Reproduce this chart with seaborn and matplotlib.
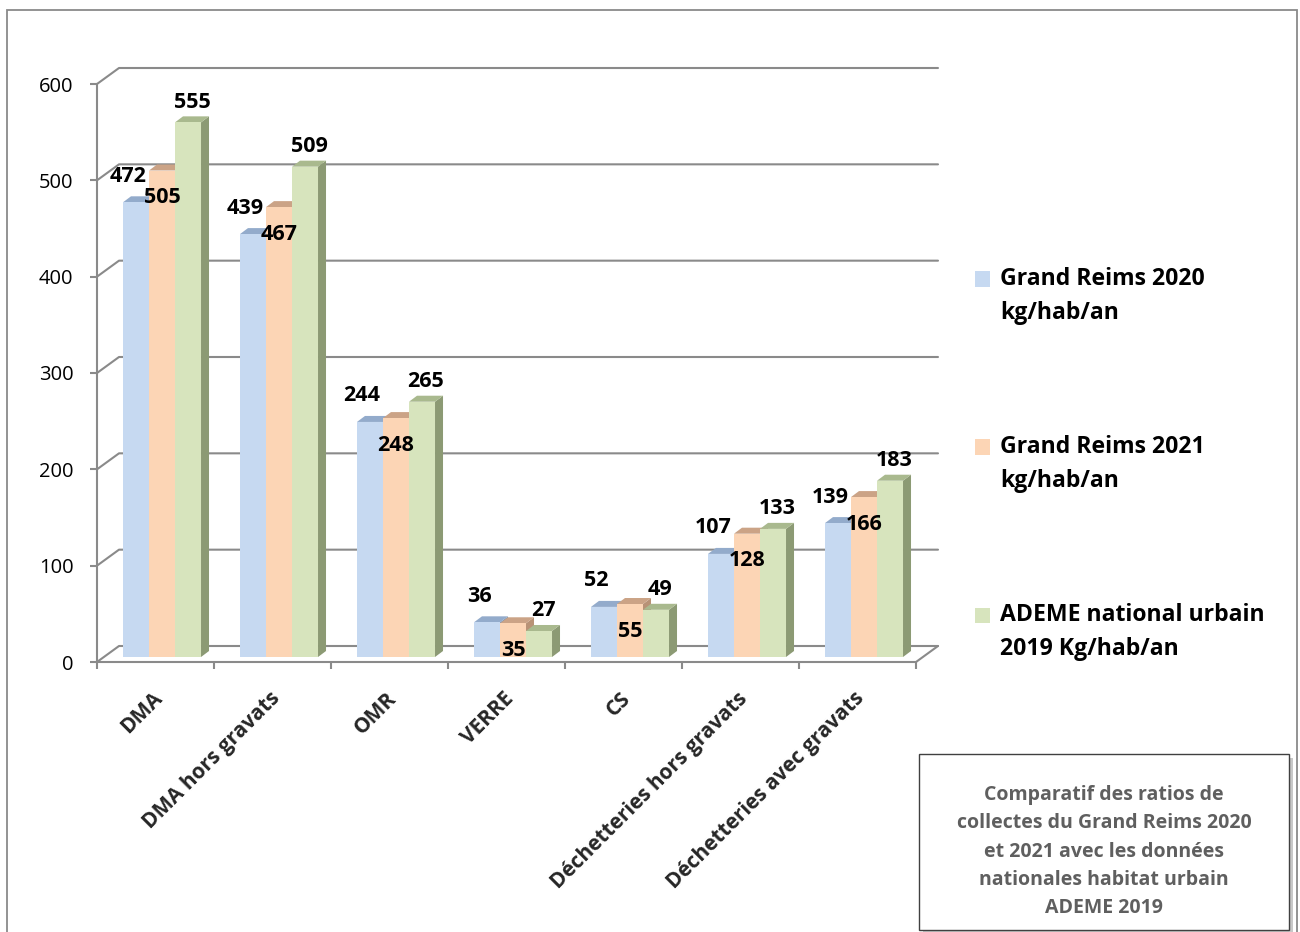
import numpy as np
import pandas as pd
import matplotlib.pyplot as plt
import matplotlib.transforms as mtransforms
from matplotlib.patches import Polygon, Rectangle
from matplotlib.lines import Line2D
import seaborn as sns

# Données
categories = ["DMA", "DMA hors gravats", "OMR", "VERRE", "CS",
              "Déchetteries hors gravats", "Déchetteries avec gravats"]
series = ["Grand Reims 2020\nkg/hab/an",
          "Grand Reims 2021\nkg/hab/an",
          "ADEME national urbain\n2019 Kg/hab/an"]
gr_2020 = [472, 439, 244, 36, 52, 107, 139]
gr_2021 = [505, 467, 248, 35, 55, 128, 166]
ademe_2019 = [555, 509, 265, 27, 49, 133, 183]
graduations = [0, 100, 200, 300, 400, 500, 600]
encadre = ["Comparatif des ratios de",
           "collectes du Grand Reims 2020",
           "et 2021 avec les données",
           "nationales habitat urbain",
           "ADEME 2019"]

couleurs = ["#c6d9f1", "#fcd5b5", "#d7e4bd"]
dessus = ["#93abcb", "#cba386", "#a9b98e"]
cotes = ["#8497b0", "#b89276", "#8c9a74"]
gris = "#8a8a8a"

df = pd.DataFrame({
    "categorie": categories * 3,
    "serie": [series[0]] * 7 + [series[1]] * 7 + [series[2]] * 7,
    "valeur": gr_2020 + gr_2021 + ademe_2019,
})

sns.set_theme(style="white")
plt.rcParams["font.family"] = ["Open Sans", "DejaVu Sans"]

W, H = 1300, 932
fig = plt.figure(figsize=(W / 100, H / 100), dpi=100)
ax = fig.add_axes([97 / W, (H - 662) / H, (916 - 97) / W, (662 - 84) / H])
ax.patch.set_alpha(0)

sns.barplot(data=df, x="categorie", y="valeur", hue="serie", order=categories,
            hue_order=series, palette=couleurs, saturation=1, width=0.667,
            linewidth=0, legend=False, ax=ax)
ax.set_xlim(-0.5, 6.5)
ax.set_ylim(0, 600)
ax.set_xlabel("")
ax.set_ylabel("")

ident = mtransforms.IdentityTransform()
T = ax.transData.transform

# mur du fond (effet 3D)
bx, by = 22, 16
for v in graduations:
    x0, y0 = T((-0.5, v))
    x1, _ = T((6.5, v))
    ax.add_line(Line2D([x0, x0 + bx, x1 + bx], [y0, y0 + by, y0 + by], transform=ident,
                       color=gris, lw=1.5, zorder=0.5, clip_on=False))
x0, y0 = T((-0.5, 0))
x1, _ = T((6.5, 0))
ax.add_line(Line2D([x1, x1 + bx], [y0, y0 + by], transform=ident,
                   color=gris, lw=1.5, zorder=0.5, clip_on=False))

# axes
for s in ["top", "right"]:
    ax.spines[s].set_visible(False)
for s in ["left", "bottom"]:
    ax.spines[s].set_color(gris)
    ax.spines[s].set_linewidth(1.5)

ax.set_yticks(graduations)
ax.tick_params(axis="y", length=5, width=1.5, color=gris, pad=12, labelsize=14.5,
               labelcolor="black", left=True)
ax.set_xticks(range(len(categories)))
ax.set_xticks(np.arange(-0.5, 7), minor=True)
ax.tick_params(axis="x", which="major", length=0, pad=24)
ax.tick_params(axis="x", which="minor", length=5, width=1.5, color=gris, bottom=True)
ax.set_xticklabels(categories, rotation=45, ha="right", va="center",
                   rotation_mode="anchor", fontsize=15, fontweight="bold")
for lab in ax.get_xticklabels():
    lab.set_transform(lab.get_transform() +
                      mtransforms.ScaledTranslation(0.04, 0, fig.dpi_scale_trans))

# barres : décalage + faces du dessus et de côté
sx, sy = 6.5, 5
pdx, pdy = 8, 6
decal = mtransforms.ScaledTranslation(sx / 100, sy / 100, fig.dpi_scale_trans)
offsets = [(-8, 26), (0, -27), (4, 20)]
for i, cont in enumerate(ax.containers):
    for p in cont.patches:
        p.set_transform(ax.transData + decal)
        p.set_zorder(2)
        xa, ya = T((p.get_x(), 0)) + np.array([sx, sy])
        xb, yb = T((p.get_x() + p.get_width(), p.get_height())) + np.array([sx, sy])
        ax.add_patch(Polygon([[xa, yb], [xb, yb], [xb + pdx, yb + pdy], [xa + pdx, yb + pdy]],
                             closed=True, transform=ident, fc=dessus[i], ec="none",
                             zorder=1.8, clip_on=False))
        ax.add_patch(Polygon([[xb, ya], [xb, yb], [xb + pdx, yb + pdy], [xb + pdx, ya + pdy]],
                             closed=True, transform=ident, fc=cotes[i], ec="none",
                             zorder=1.7, clip_on=False))
        ox, oy = offsets[i]
        ax.text((xa + xb) / 2 + ox, yb + oy, f"{p.get_height():.0f}", transform=ident,
                ha="center", va="center", fontsize=15.5, fontweight="bold",
                color="black", zorder=3, clip_on=False)

# légende
for i, s in enumerate(series):
    yc = 279 + 168 * i
    fig.patches.append(Rectangle((975 / W, (H - yc - 7.5) / H), 15 / W, 15 / H,
                                 transform=fig.transFigure, fc=couleurs[i], ec="none"))
    for k, ligne in enumerate(s.split("\n")):
        fig.text(1000 / W, (H - yc - 34 * k) / H, ligne, ha="left", va="center",
                 fontsize=16.6, fontweight="bold", color="black")

# encadré
fig.patches.append(Rectangle((923 / W, (H - 934) / H), 370 / W, 176 / H,
                             transform=fig.transFigure, fc="#c8c8c8", ec="none", zorder=0))
fig.patches.append(Rectangle((919 / W, (H - 930) / H), 370 / W, 176 / H,
                             transform=fig.transFigure, fc="white", ec="#404040", lw=1, zorder=1))
for k, ligne in enumerate(encadre):
    fig.text(1104 / W, (H - 795 - 28.3 * k) / H, ligne, ha="center", va="center",
             fontsize=14, fontweight="bold", color="#5f5f5f", zorder=2)

# cadre extérieur
fig.patches.append(Rectangle((7 / W, -0.05), (1297 - 7) / W, (H - 10) / H + 0.05,
                             transform=fig.transFigure, fill=False, ec=gris, lw=1.3))

fig.savefig("out.png", dpi=100)
